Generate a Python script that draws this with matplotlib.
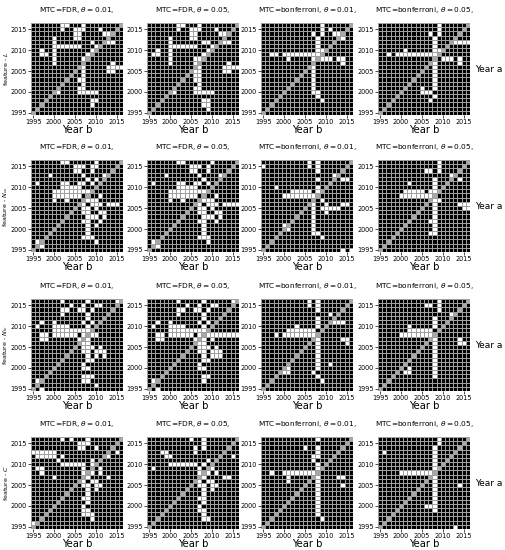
import numpy as np
import matplotlib
matplotlib.use("Agg")
import matplotlib.pyplot as plt
from matplotlib.colors import ListedColormap

years = list(range(1995, 2017))
ticks = [1995, 2000, 2005, 2010, 2015]
features = ["$L$", "$N_{cc}$", "$N_{lc}$", "$C$"]
titles = [r"MTC=FDR, $\theta = 0.01$,", r"MTC=FDR, $\theta = 0.05$,",
          r"MTC=bonferroni, $\theta = 0.01$,", r"MTC=bonferroni, $\theta = 0.05$,"]

# rows from 2016 (top) down to 1995; columns 1995..2016
# '#' = significant (black), '.' = not significant (white)
L_fdr_001 = [
    "#######..###.#########", "#######.##...###.#####", "##########..#####..###",
    "#####.####..######.###", "#####.########.###..##", "#####.......###.######",
    "##.##.########.#######", "##..#.#######.########", "#####.######.#########",
    "#####.######.######.##", "############.#####....", "############.#####..##",
    "############.#########", "###########..#########", "############.#########",
    "###########..#########", "######.####.....######", "######################",
    "##############..######", "##############.#######", "######################",
    "######################"]
L_fdr_005 = [
    "#######..###.#########", "#######.##...###.#####", "##########..#####..###",
    "#####.####..######.###", "#####.#######..###..##", "#####.......###.######",
    "##.##.########.#######", "#..##.#######.########", "#####.#####..#########",
    "#####.#####..######.##", "###########..#####....", "###########..#####..##",
    "###########..#########", "###########..#########", "############.#########",
    "###########..#########", "######.####.....######", "######################",
    "#############..#######", "#############..#######", "##############.#######",
    "######################"]
L_bon_001 = [
    "##############.#######", "##############.#.#####", "############.#.##..###",
    "#############.####..##", "#############.########", "#############.########",
    "#############..#######", "##..#.........########", "######.#####.#...#..##",
    "############.######.##", "############.#########", "############.#########",
    "############.#########", "############.#########", "############.#########",
    "############.#########", "############..########", "#############.########",
    "##############.#######", "######################", "######################",
    "######################"]
L_bon_005 = [
    "##############.#######", "##############.#######", "############.#.#######",
    "#############.########", "#############.###.....", "#############.########",
    "######.######..#######", "##.#..........########", "#############.#...#.##",
    "#############.#####.##", "#############.########", "#############.########",
    "#############.########", "#############.########", "#############.########",
    "##########.##.########", "##########...#########", "#############.########",
    "############.#########", "######################", "######################",
    "######################"]

Ncc_fdr_001 = [
    "#######..######.######", "##########...#..######", "##########..##.#######",
    "####.#######.####.####", "#############.#.######", "#.#####..##..#.#######",
    "#######.....###.######", "#####..........#######", "#####.......#.##.#####",
    "#####.##.####...######", "############.#...#...#", "############..#.######",
    "############..##..####", "#############...#.####", "############..##.#####",
    "#############.#.######", "#############.########", "#############.########",
    "############...#######", "#.#############.######", "##.###################",
    "######################"]
Ncc_fdr_005 = [
    "#######..######.######", "##########...#.#######", "##########..##.#######",
    "####.#######.####.####", "#############.########", "#.#####..##..#.#######",
    "#######.....###.######", "#####..........#######", "#####.......#.##.#####",
    "#####.##.####...######", "############.#...#....", "############..#.######",
    "############..##..####", "#############...#.####", "############..##.#####",
    "#############.########", "#############.########", "#############.########",
    "############...#######", "#.############.#######", "##.###################",
    "######################"]
Ncc_bon_001 = [
    "###########.#.########", ".##########.#.########", "#############.########",
    "#################.####", "#############.###.#..#", "######################",
    "###.#########.########", "#######.....#.########", "#####.........########",
    "############.#.#######", "############.##.###..#", "############.#.....###",
    "############.##.######", "############.#########", "############.#########",
    "#####.######.#########", "#####..#####.#########", "############..########",
    "##############.#######", "######################", "######################",
    "###################.#."]
Ncc_bon_005 = [
    "##############.#######", "##############.#######", "###########..#.#######",
    "#################.####", "#############.#####.##", "#######.#####.########",
    "#############.########", "######.....#..########", "#####.........########",
    "#############..#######", "#############.#####...", "#############.######..",
    "#############.########", "#############.########", "############..########",
    "#############.########", "#############.########", "############..########",
    "######################", "######################", "######################",
    "######################"]

Nlc_fdr_001 = [
    "#######.#####.######.#", "#########.##.##..#####", "#######..##..#.#######",
    "#######.#####.####.###", "#############.########", "##.##.######.#.#######",
    "#.###....####.########", "#####.........########", "##..#......#.#..######",
    "##..#######.#.########", "############..########", "############...#.#####",
    "############..#...####", "#############.#.#.####", "#############..#######",
    "############.#########", "############..########", "######################",
    "############...#######", "#.##########..########", "#.#############.######",
    "##.###################"]
Nlc_fdr_005 = [
    "#######.#####.######.#", "#########.##.##..#####", "#######..##..#.#######",
    "#######.#####.####.###", "#############.########", "##.##.######.#.#######",
    "#.###....####.########", "#####.........########", "##..#......#.#........",
    "##..#######.#.#.######", "############..########", "############...#.#####",
    "############..#...####", "#############.#...####", "#############..#######",
    "############.#########", "############..########", "######################",
    "#############..#######", "#.###########.########", "#.####################",
    "##.###################"]
Nlc_bon_001 = [
    "###########.#.########", "###########.#.########", "#############.########",
    "################.#####", "#############.########", "#############.###...##",
    "########.####.########", "######.......#########", "###.#.........########",
    "#############.#####..#", "#############.######.#", "#############.########",
    "#############.########", "#############.########", "#############.########",
    "#############.##.#####", "######.######.########", "#####..#####.#########",
    "#############.########", "##############.#######", "######################",
    "######################"]
Nlc_bon_005 = [
    "##############.#######", "###########..#.#######", "##############.#######",
    "#################.####", "#############.###.####", "#############.########",
    "#######.#####.########", "#######......#########", "#####.........########",
    "#############.#####.##", "#############.#####..#", "#############.########",
    "#############.########", "#############.########", "#############.########",
    "#############.########", "#######.#####.########", "######..#####.########",
    "#############.########", "######################", "######################",
    "######################"]

C_fdr_001 = [
    "#######.#.###.########", "###########...########", "###########..##.######",
    "......##############.#", "#.....#.##########.###", "######.#######.#######",
    "#######......#.#######", "#..#########.###.#####", "##.#########.#.#.#####",
    "#####.######..####.###", "############.#..######", "############..#..#####",
    "#############.#.######", "#############.########", "############..########",
    "#############.########", "############.#########", "############..########",
    "############...#######", "##############.#######", ".#####################",
    "######################"]
C_fdr_005 = [
    "##########.##.########", "#############.########", "###########.#.########",
    "###..######.##########", "####..##############.#", "##############.#######",
    "#####.......#.########", "#.##########.##.######", "############.#.#.#####",
    "############..####..##", "############.#..######", "############..#..#####",
    "#############.#.######", "#############.########", "############..########",
    "#############.########", "############.#########", "############..########",
    "#############.########", "#############..#######", "######################",
    "######################"]
C_bon_001 = [
    "#############.########", "######################", "##########.##.########",
    "#############.########", "############..########", "############.#########",
    "#############.########", "#############.########", "##.##.........########",
    "######.######.####..##", "######.######.########", "#############.#####.##",
    "#############.########", "#############.########", "#############.########",
    "#############.########", "#############.########", "#############.########",
    "#############.########", "##############.#######", "######################",
    "######################"]
C_bon_005 = [
    "##############.#######", "##############.#######", "#############.########",
    "#.###########.########", "#############.########", "#############.########",
    "#############.########", "#############.########", "#####.........########",
    "#############.########", "#############.########", "#############.#####.##",
    "#############.########", "#############.########", "#############.########",
    "#############.########", "###########...########", "#############.########",
    "######################", "######################", "######################",
    "##################.###"]

grids = [
    [L_fdr_001, L_fdr_005, L_bon_001, L_bon_005],
    [Ncc_fdr_001, Ncc_fdr_005, Ncc_bon_001, Ncc_bon_005],
    [Nlc_fdr_001, Nlc_fdr_005, Nlc_bon_001, Nlc_bon_005],
    [C_fdr_001, C_fdr_005, C_bon_001, C_bon_005],
]

cmap = ListedColormap(["white", "#a8a8a8", "black"])
edges = np.arange(years[0] - 0.5, years[-1] + 1.5)

fig = plt.figure(figsize=(5.06, 5.5), dpi=100)
W, H = 506.0, 550.0
lefts = [31, 147, 261, 378]
tops = [23, 160, 299, 437]
size = 92

for i, row in enumerate(grids):
    for j, g in enumerate(row):
        m = np.array([[2 if ch == "#" else 0 for ch in s] for s in g])[::-1]
        np.fill_diagonal(m, 1)
        ax = fig.add_axes([lefts[j] / W, 1 - (tops[i] + size) / H, size / W, size / H])
        ax.pcolormesh(edges, edges, m, cmap=cmap, vmin=0, vmax=2,
                      edgecolor="#a0a0a0", linewidth=0.4)
        ax.set_xlim(edges[0], edges[-1])
        ax.set_ylim(edges[0], edges[-1])
        ax.set_xticks(ticks)
        ax.set_yticks(ticks)
        ax.tick_params(labelsize=4.7, length=2, width=0.5, pad=1.2)
        for sp in ax.spines.values():
            sp.set_visible(False)
        ax.set_title(titles[j], fontsize=5.3, pad=8)
        ax.set_xlabel("Year b", fontsize=7.2, labelpad=0)
        if j == 0:
            ax.set_ylabel("feature - " + features[i], fontsize=4.6)
            ax.yaxis.set_label_coords(-0.225, 0.5)
        if j == 3:
            ax.yaxis.set_label_position("right")
            ax.set_ylabel("Year a", fontsize=6.5, rotation=0, ha="left",
                          va="center", labelpad=4)

fig.savefig("out.png", dpi=100)
